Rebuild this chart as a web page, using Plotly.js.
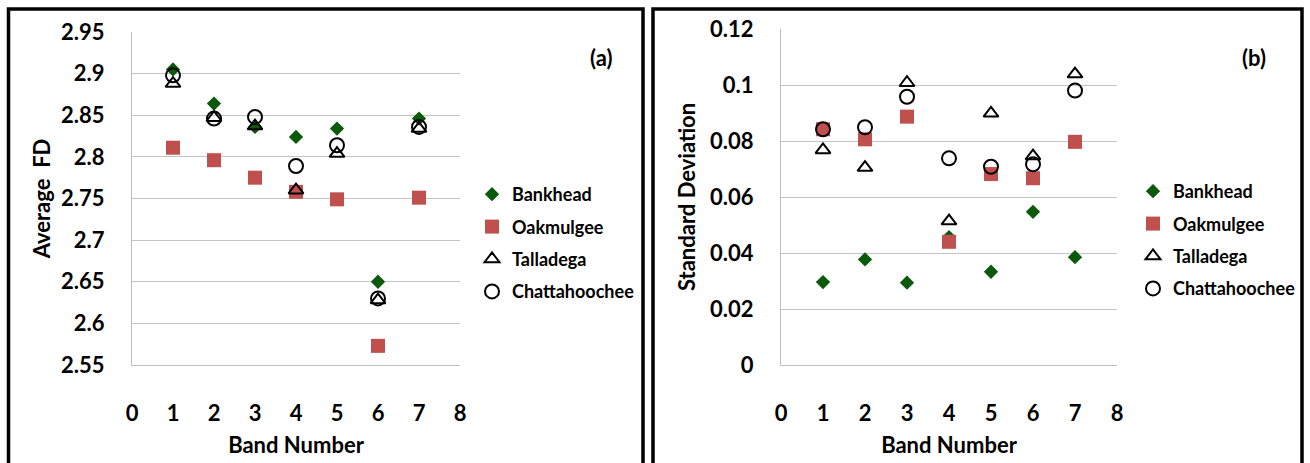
<!DOCTYPE html>
<html>
<head>
<meta charset="utf-8">
<script src="https://cdn.plot.ly/plotly-3.0.1.min.js"></script>
<style>html,body{margin:0;padding:0;background:#fff;}#chart{width:1310px;height:463px;}</style>
</head>
<body>
<div id="chart"></div>
<script>
// ---- data ----
const bands = [1, 2, 3, 4, 5, 6, 7];
const seriesNames = ["Bankhead", "Oakmulgee", "Talladega", "Chattahoochee"];
const fdBankhead      = [2.905, 2.864, 2.836, 2.824, 2.834, 2.650, 2.846];
const fdOakmulgee     = [2.811, 2.796, 2.775, 2.758, 2.749, 2.573, 2.751];
const fdTalladega     = [2.888, 2.847, 2.837, 2.760, 2.804, 2.628, 2.834];
const fdChattahoochee = [2.898, 2.846, 2.848, 2.789, 2.814, 2.630, 2.836];
const sdBankhead      = [0.0296, 0.0377, 0.0294, 0.0457, 0.0333, 0.0547, 0.0385];
const sdOakmulgee     = [0.0842, 0.0806, 0.0887, 0.0440, 0.0682, 0.0667, 0.0797];
const sdTalladega     = [0.0768, 0.0705, 0.1008, 0.0514, 0.0899, 0.0746, 0.1039];
const sdChattahoochee = [0.0842, 0.0849, 0.0958, 0.0738, 0.0708, 0.0717, 0.0980];
const xTicks = [0, 1, 2, 3, 4, 5, 6, 7, 8];

// ---- styles ----
const FONT = "Lato, 'Open Sans', sans-serif";
const W = 1310, H = 463;
const markerStyles = [
  {symbol: "diamond", size: 11, color: "#0b5a0b", line: {width: 0}},
  {symbol: "square", size: 14, color: "#c0504d", line: {width: 0}},
  {symbol: "triangle-up-open", size: 13, color: "#000", line: {width: 2, color: "#000"}},
  {symbol: "circle-open", size: 14, color: "#000", line: {width: 2, color: "#000"}}
];
const fdSeries = [fdBankhead, fdOakmulgee, fdTalladega, fdChattahoochee];
const sdSeries = [sdBankhead, sdOakmulgee, sdTalladega, sdChattahoochee];

const traces = [];
fdSeries.forEach((ys, i) => traces.push({
  type: "scatter", mode: "markers", x: bands, y: ys, name: seriesNames[i],
  xaxis: "x", yaxis: "y", marker: markerStyles[i], legend: "legend", legendgroup: "a" + i
}));
sdSeries.forEach((ys, i) => traces.push({
  type: "scatter", mode: "markers", x: bands, y: ys, name: seriesNames[i],
  xaxis: "x2", yaxis: "y2", marker: markerStyles[i], legend: "legend2", legendgroup: "b" + i
}));

const px = v => v / W;
const py = v => (H - v) / H;
const tickFont = {family: FONT, size: 22, color: "#000", weight: "bold"};
const titleFont = {family: FONT, size: 22, color: "#000", weight: "bold"};

function xAxis(d0, d1, anchor) {
  return {
    domain: [px(d0), px(d1)], range: [0, 8], tickvals: xTicks, anchor: anchor,
    showgrid: false, zeroline: false, showline: true, linecolor: "#bfbfbf", linewidth: 1,
    ticks: "", ticklabelstandoff: 29, tickfont: tickFont,
    title: {text: "Band Number", font: titleFont, standoff: 12}, fixedrange: true
  };
}
function yAxis(d0, d1, range, dtick, title, anchor, standoff) {
  return {
    domain: [py(d0), py(d1)], range: range, dtick: dtick, anchor: anchor,
    showgrid: true, gridcolor: "#c4c4c4", gridwidth: 1, zeroline: false,
    showline: true, linecolor: "#bfbfbf", linewidth: 1,
    ticks: "", ticklabelstandoff: 22, tickfont: tickFont,
    title: {text: title, font: titleFont, standoff: standoff}, fixedrange: true
  };
}

const legendCommon = {
  font: {family: FONT, size: 18, color: "#000", weight: "bold"},
  bgcolor: "rgba(0,0,0,0)", borderwidth: 0, tracegroupgap: 6,
  xanchor: "left", yanchor: "top", itemwidth: 30
};

const layout = {
  width: W, height: H,
  margin: {l: 0, r: 0, t: 0, b: 0},
  paper_bgcolor: "#fff", plot_bgcolor: "#fff",
  showlegend: true,
  xaxis: xAxis(132, 460, "y"),
  yaxis: yAxis(365, 32, [2.55, 2.95], 0.05, "Average  FD", "x", 4),
  xaxis2: xAxis(781, 1117, "y2"),
  yaxis2: yAxis(365, 29, [0, 0.12], 0.02, "Standard Deviation", "x2", 8),
  legend: Object.assign({x: px(472), y: py(176)}, legendCommon),
  legend2: Object.assign({x: px(1133), y: py(173)}, legendCommon),
  shapes: [
    {type: "rect", xref: "paper", yref: "paper", x0: px(8.5), x1: px(643), y0: -0.05, y1: py(9), line: {color: "#000", width: 3.5}},
    {type: "rect", xref: "paper", yref: "paper", x0: px(653), x1: px(1302), y0: -0.05, y1: py(9), line: {color: "#000", width: 3.5}}
  ],
  annotations: [
    {text: "(a)", xref: "paper", yref: "paper", x: px(601), y: py(42), showarrow: false, font: titleFont},
    {text: "(b)", xref: "paper", yref: "paper", x: px(1268), y: py(42), showarrow: false, font: titleFont}
  ]
};

Plotly.newPlot("chart", traces, layout, {displayModeBar: false, staticPlot: true});
</script>
</body>
</html>
